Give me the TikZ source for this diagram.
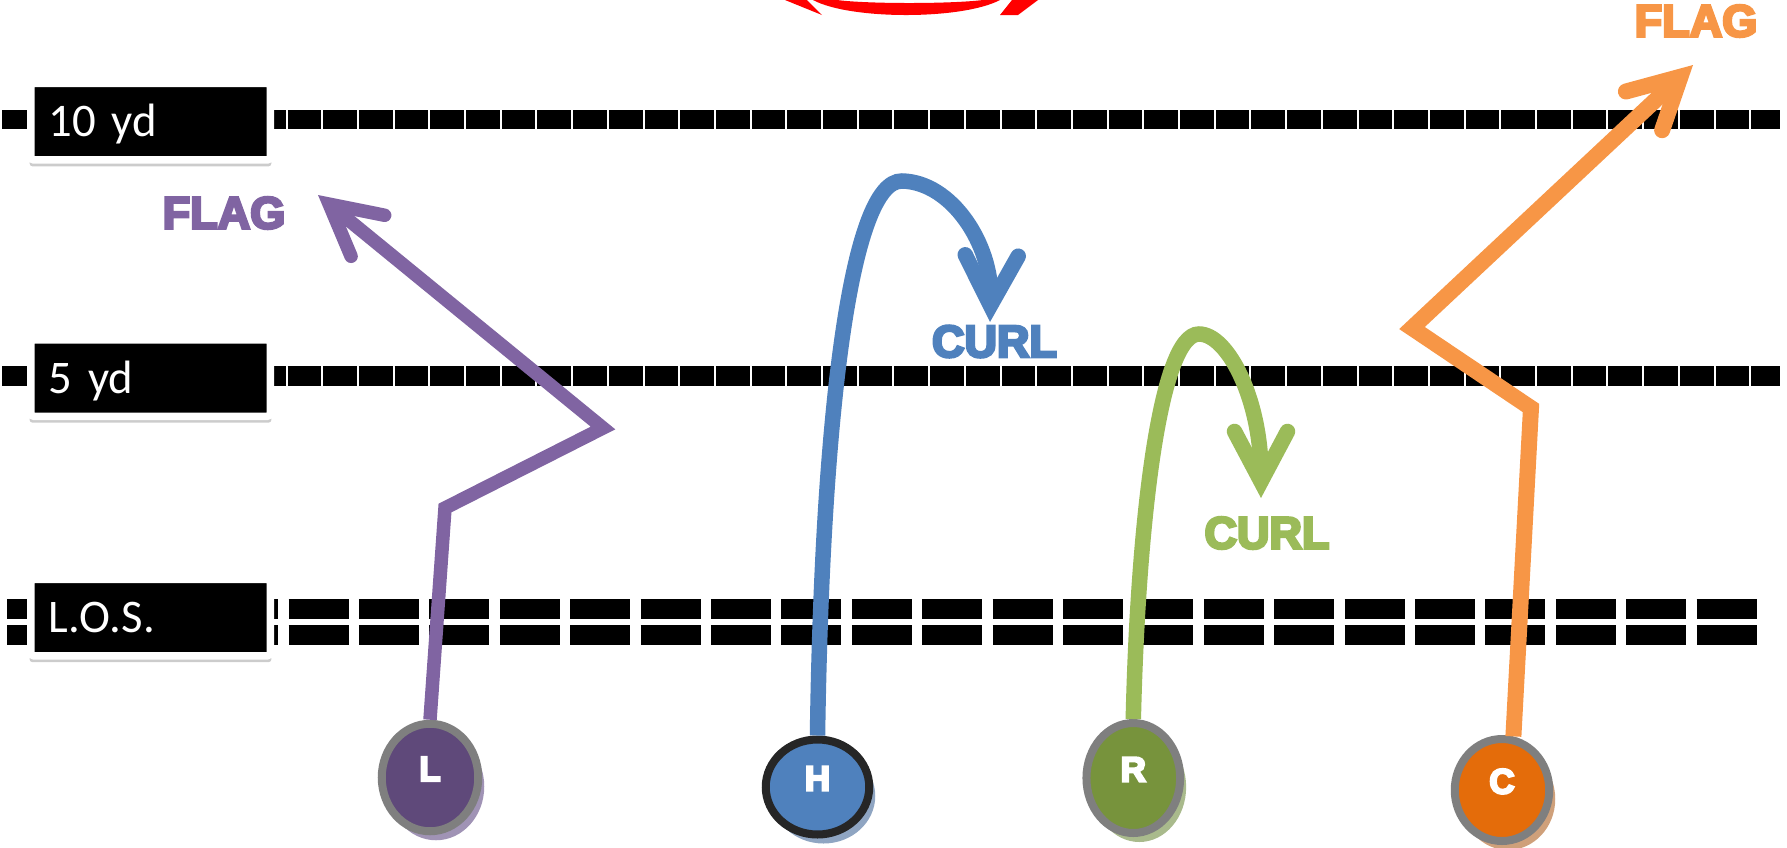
\documentclass[tikz,border=0pt]{standalone}
\usepackage{fontspec}
\setmainfont{Carlito}
\newfontfamily\heavyfont{Liberation Sans}[UprightFont=* Bold, FakeBold=6]
\usetikzlibrary{arrows.meta,shapes.geometric,shadows}

\definecolor{purpleroute}{HTML}{8064A2}
\definecolor{purplefill}{HTML}{5F497A}
\definecolor{purpleshadow}{HTML}{A093B5}
\definecolor{blueroute}{HTML}{4F81BD}
\definecolor{blueshadow}{HTML}{8FA5C2}
\definecolor{greenroute}{HTML}{9BBB59}
\definecolor{greenfill}{HTML}{77933C}
\definecolor{greenshadow}{HTML}{A9BA8C}
\definecolor{orangeroute}{HTML}{F79646}
\definecolor{orangefill}{HTML}{E46C0A}
\definecolor{orangeshadow}{HTML}{CFA07A}
\definecolor{ringgray}{HTML}{7F7F7F}
\definecolor{ringdark}{HTML}{262626}

\begin{document}
\begin{tikzpicture}[
    x=0.1mm, y=-0.1mm,
    yardline/.style={line width=1.93mm, dash pattern=on 3.37mm off 0.2mm},
    losline/.style={line width=2mm, dash pattern=on 6mm off 1.04mm},
    yardbox/.style={fill=black, draw=white, line width=0.75mm, rounded corners=0.3mm,
        minimum height=7.65mm, text width=20.35mm, inner xsep=1.8mm, inner ysep=0pt,
        align=left, text=white, text height=3mm, text depth=0pt,
        font=\fontsize{13.3}{15}\selectfont,
        drop shadow={shadow xshift=0mm, shadow yshift=-0.6mm, shadow scale=1.01, fill=black!40, opacity=0.5}},
    player/.style n args={3}{ellipse, fill=#1, draw=#2, line width=0.8mm, inner sep=0pt,
        text=white, font=\heavyfont\fontsize{10}{11}\selectfont,
        text height=2.5mm, text depth=1.8mm,
        drop shadow={shadow xshift=0.6mm, shadow yshift=-0.9mm, fill=#3, opacity=1}},
    route/.style={line width=1.55mm, draw=#1, line join=miter},
    routelabel/.style={text=#1, inner sep=0pt, font=\heavyfont\fontsize{12.8}{14}\selectfont},
    barb/.style={-{Straight Barb[length=5mm, width=5.3mm, line cap=round, line join=miter]}}
  ]
  \useasboundingbox (0,0) rectangle (1787,847);

  % logo cut off at the top
  \fill[red] (813,0) .. controls (850,20) and (962,20) .. (1000,0) -- (983,0)
    .. controls (950,4) and (868,4) .. (837,0) -- cycle;
  \fill[red] (785,0) -- (807,0) -- (822,15) -- cycle;
  \fill[red] (1012,0) -- (1038,0) -- (1018,15) -- (1000,15) -- cycle;

  % yard lines
  \draw[yardline] (2,119.7) -- (1780,119.7);
  \draw[yardline] (2,376) -- (1780,376);
  \draw[losline] (7,609) -- (1757,609);
  \draw[losline] (7,634.5) -- (1757,634.5);

  \node[yardbox] (ten) at (150.5,121.7) {10 yd};
  \node[yardbox] (five) at (150.5,378) {5 yd};
  \node[yardbox] (los) at (150.5,617.5) {L.O.S.};

  % players
  \node[player={purplefill}{ringgray}{purpleshadow}, minimum width=9.65mm, minimum height=10.75mm] (L) at (430,777.5) {L};
  \node[player={blueroute}{ringdark}{blueshadow}, minimum width=10.35mm, minimum height=9.5mm] (H) at (817.5,787) {H};
  \node[player={greenfill}{ringgray}{greenshadow}, minimum width=9.37mm, minimum height=11mm] (R) at (1133.3,778) {R};
  \node[player={orangefill}{ringgray}{orangeshadow}, minimum width=9.45mm, minimum height=10.2mm] (C) at (1502,790) {C};

  % routes
  \coordinate (Lcut) at (445,508);
  \coordinate (Lbreak) at (603,428);
  \coordinate (Lflag) at (318,195);
  \draw[route=purpleroute, line width=1.35mm, barb] (L.north) -- (Lcut) -- (Lbreak) -- (Lflag);

  \coordinate (Htop) at (902,181);
  \coordinate (Hcurl) at (990,322);
  \draw[route=blueroute, barb] (H.north) .. controls (822,420) and (850,180) .. (Htop)
    .. controls (952,182) and (992,245) .. (Hcurl);

  \coordinate (Rtop) at (1199,334);
  \coordinate (Rcurl) at (1261,498);
  \draw[route=greenroute, barb] (R.north) .. controls (1138,520) and (1160,334) .. (Rtop)
    .. controls (1228,334) and (1261,400) .. (Rcurl);

  \coordinate (Ccut) at (1531,408);
  \coordinate (Cbreak) at (1412,328);
  \coordinate (Cflag) at (1693,65);
  \draw[route=orangeroute, line width=1.6mm, barb] (C.78) -- (Ccut) -- (Cbreak) -- (Cflag);

  \node[routelabel=purpleroute] (Lflaglbl) at (224,213) {FLAG};
  \node[routelabel=blueroute] (Hcurllbl) at (994.5,341.5) {CURL};
  \node[routelabel=greenroute] (Rcurllbl) at (1267,533) {CURL};
  \node[routelabel=orangeroute] (Cflaglbl) at (1696,21) {FLAG};
\end{tikzpicture}
\end{document}
